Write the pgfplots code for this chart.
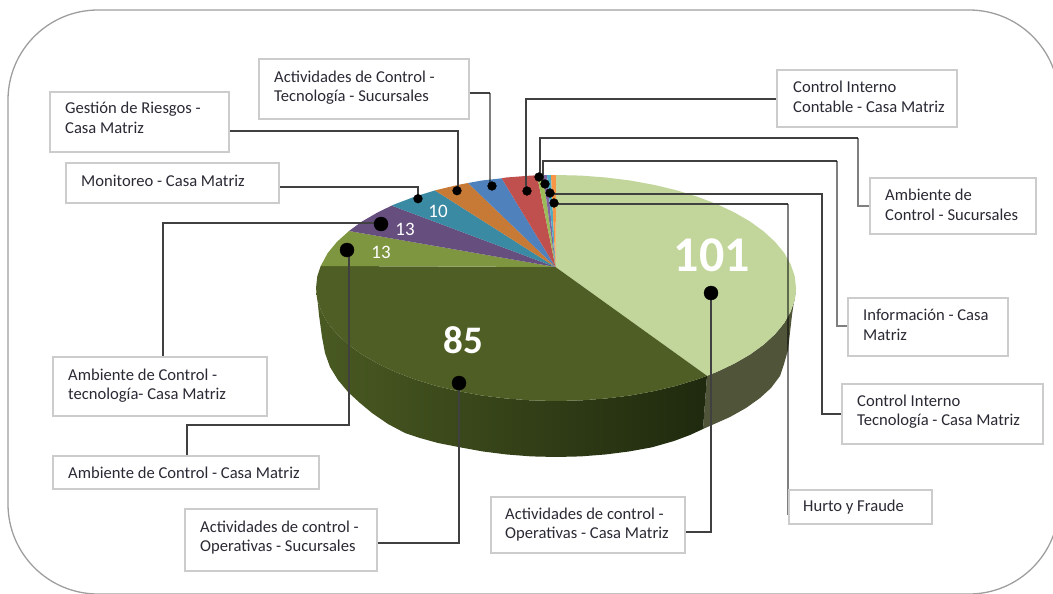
\documentclass[border=0pt]{standalone}
\usepackage{fontspec}
\setmainfont{Carlito}
\usepackage{pgfplots}
\pgfplotsset{compat=1.18}

\definecolor{sidePale}{HTML}{50553A}
\definecolor{sideA}{HTML}{4A5A22}
\definecolor{sideB}{HTML}{33401A}
\definecolor{sideC}{HTML}{1F290E}
\definecolor{boxline}{HTML}{CCCCCC}
\definecolor{wire}{HTML}{404040}
\definecolor{ink}{HTML}{2A2A35}

% box with its corners, in picture pixels
\newcommand{\labelbox}[4]{\draw[boxline,line width=1.2pt,fill=white] (axis cs:#1,#2) rectangle (axis cs:#3,#4);}
\newcommand{\labeltext}[3]{\node[anchor=west,inner sep=0pt,text=ink,font=\fontsize{16.6}{18}\selectfont] at (axis cs:#1,#2) {#3};}

\pgfplotsset{
    thin wire/.style={wire,line width=1.3pt},
    soft wire/.style={black,opacity=0.5,line width=1.8pt},
}

\begin{document}
\begin{tikzpicture}
\useasboundingbox (0,0) rectangle (1053pt,594pt);
\begin{axis}[
    scale only axis,
    width=1053pt, height=594pt,
    xmin=0, xmax=1053,
    ymin=0, ymax=594,
    y dir=reverse,
    hide axis,
]

\draw[color=black!38,line width=1.3pt,rounded corners=90pt] (axis cs:8,10) rectangle (axis cs:1059,594);

% sides of the pie
\addplot[draw=none,fill=sidePale] coordinates {
    (796,288)(794.7,299.8)(790.7,311.5)(784.3,322.9)(775.2,334)(763.8,344.5)(750.2,354.4)(734.3,363.6)(716.6,372)(707,375.8)
    (703,429)(730,417)(746,408)(760,398)(771,388)(780,376)(784,364)(788,350)(792,315)
} --cycle;
\addplot[draw=none,left color=sideA,middle color=sideB,right color=sideC] coordinates {
    (707,375.8)(697.1,379.4)(676,385.9)(653.6,391.2)(630.2,395.5)(605.9,398.5)(581.1,400.4)(556,401)
    (530.9,400.4)(506.1,398.5)(481.8,395.5)(458.4,391.2)(436,385.9)(414.9,379.4)(395.4,372)(377.7,363.6)
    (361.8,354.4)(348.2,344.5)(336.8,334)(327.7,322.9)(321.3,311.5)(317.3,299.8)(316,288)
    (317,295)(319,315)(322,337)(325,353)(330,367)(338,380)(348,392)(360,403)(372,413)(388,424)
    (405,433)(420,438)(438,443)(460,447.3)(483.1,451.5)(506.9,454.5)(531.3,456.4)(556,457)
    (580.7,456.4)(605.1,454.5)(628.9,451.5)(652,447.3)(674,441)(690,435)(703,429)
} --cycle;

% top face, clockwise from 12 o'clock
\addplot[draw=none,fill={rgb,255:red,194;green,214;blue,155}] coordinates {
    (555.5,267)(556,175)(581.1,175.6)(605.9,177.5)(630.2,180.5)(653.6,184.8)(676,190.1)(697.1,196.6)(716.6,204)
    (734.3,212.4)(750.2,221.6)(763.8,231.5)(775.2,242)(784.3,253.1)(790.7,264.5)(794.7,276.2)(796,288)
    (794.7,299.8)(790.7,311.5)(784.3,322.9)(775.2,334)(763.8,344.5)(750.2,354.4)(734.3,363.6)(716.6,372)(707,375.8)
} --cycle;
\addplot[draw=none,fill={rgb,255:red,79;green,94;blue,36}] coordinates {
    (555.5,267)(707,375.8)(697.1,379.4)(676,385.9)(653.6,391.2)(630.2,395.5)(605.9,398.5)(581.1,400.4)(556,401)
    (530.9,400.4)(506.1,398.5)(481.8,395.5)(458.4,391.2)(436,385.9)(414.9,379.4)(395.4,372)(377.7,363.6)
    (361.8,354.4)(348.2,344.5)(336.8,334)(327.7,322.9)(321.3,311.5)(317.3,299.8)(316,288)(317.3,276.2)(320.7,266)
} --cycle;
\addplot[draw=none,fill={rgb,255:red,127;green,150;blue,65}] coordinates {
    (555.5,267)(320.7,266)(327.7,253.1)(336.8,242)(349,231)
} --cycle;
\addplot[draw=none,fill={rgb,255:red,102;green,79;blue,127}] coordinates {
    (555.5,267)(349,231)(361.8,221.6)(377.7,212.4)(391.7,205.6)
} --cycle;
\addplot[draw=none,fill={rgb,255:red,59;green,138;blue,163}] coordinates {
    (555.5,267)(391.7,205.6)(395.4,204)(414.9,196.6)(435,190.4)
} --cycle;
\addplot[draw=none,fill={rgb,255:red,199;green,122;blue,53}] coordinates {
    (555.5,267)(435,190.4)(458.4,184.8)(468,183)
} --cycle;
\addplot[draw=none,fill={rgb,255:red,79;green,129;blue,189}] coordinates {
    (555.5,267)(468,183)(481.8,180.5)(501.7,178.3)
} --cycle;
\addplot[draw=none,fill={rgb,255:red,192;green,80;blue,77}] coordinates {
    (555.5,267)(501.7,178.3)(506.1,177.5)(530.9,175.6)(537,175.3)
} --cycle;
\addplot[draw=none,fill={rgb,255:red,155;green,187;blue,89}] coordinates {(555.5,267)(537,175.3)(543,175.1)} --cycle;
\addplot[draw=none,fill={rgb,255:red,128;green,100;blue,162}] coordinates {(555.5,267)(543,175.1)(547,175)} --cycle;
\addplot[draw=none,fill={rgb,255:red,75;green,172;blue,198}] coordinates {(555.5,267)(547,175)(551,175)} --cycle;
\addplot[draw=none,fill={rgb,255:red,247;green,150;blue,70}] coordinates {(555.5,267)(551,175)(556,175)} --cycle;

% values on the slices
\node[text=white,font=\fontsize{50}{50}\selectfont\bfseries] at (axis cs:712,255) {101};
\node[text=white,font=\fontsize{39}{39}\selectfont\bfseries] at (axis cs:463,340) {85};
\node[text=white,font=\fontsize{19}{19}\selectfont] at (axis cs:381,252) {13};
\node[text=white,font=\fontsize{19}{19}\selectfont] at (axis cs:405,229) {13};
\node[text=white,font=\fontsize{19}{19}\selectfont] at (axis cs:438,211) {10};

% leader lines
\addplot[thin wire] coordinates {(470,93)(490,93)};
\addplot[soft wire] coordinates {(490,93)(490,186)};
\addplot[thin wire] coordinates {(229,131)(458,131)(458,190)};
\addplot[thin wire] coordinates {(279,187)(418,187)(418,198)};
\addplot[thin wire] coordinates {(163,357)(163,223)(381,223)};
\addplot[thin wire] coordinates {(349,250)(349,425)(187,425)(187,456)};
\addplot[thin wire] coordinates {(378,543)(459,543)(459,383)};
\addplot[thin wire] coordinates {(685,532)(711,532)(711,293)};
\addplot[thin wire] coordinates {(777,99)(526,99)(526,191)};
\addplot[thin wire] coordinates {(540,177)(540,138)(858,138)};
\addplot[soft wire] coordinates {(858,138)(858,206)(870,206)};
\addplot[thin wire] coordinates {(543,184)(543,161)(837,161)};
\addplot[soft wire] coordinates {(837,161)(837,326)(848,326)};
\addplot[thin wire] coordinates {(550,194)(822,194)(822,414)(842,414)};
\addplot[thin wire] coordinates {(554,204)(788,204)};
\addplot[soft wire] coordinates {(788,204)(788,515)};

% leader dots
\addplot[only marks,mark=*,mark size=4.4pt,mark options={draw=black,fill=black}] coordinates {
    (418,198.7)(457,190.7)(492,186)(527,191)(539,177)(545,184)(550,193)(554,203)
};
\addplot[only marks,mark=*,mark size=7pt,mark options={draw=none,fill=black}] coordinates {
    (381,224)(347,250)(459,383)(711,293)
};

% labels
\labelbox{259}{59}{469}{119}
\labeltext{274}{77}{Actividades de Control -}
\labeltext{274}{97}{Tecnología - Sucursales}
\labelbox{50}{92}{229}{152}
\labeltext{65}{109}{Gestión de Riesgos -}
\labeltext{65}{128}{Casa Matriz}
\labelbox{66}{163}{279}{203}
\labeltext{81}{181}{Monitoreo - Casa Matriz}
\labelbox{53}{357}{267}{416}
\labeltext{68}{375}{Ambiente de Control -}
\labeltext{68}{395}{tecnología- Casa Matriz}
\labelbox{53}{456}{319}{489}
\labeltext{68}{473}{Ambiente de Control - Casa Matriz}
\labelbox{185}{509}{377}{571}
\labeltext{200}{527}{Actividades de control -}
\labeltext{200}{547}{Operativas - Sucursales}
\labelbox{491}{497}{685}{553}
\labeltext{505}{514}{Actividades de control -}
\labeltext{505}{534}{Operativas - Casa Matriz}
\labelbox{789}{490}{932}{524}
\labeltext{803}{507}{Hurto y Fraude}
\labelbox{842}{384}{1043}{444}
\labeltext{857}{401}{Control Interno}
\labeltext{857}{421}{Tecnología - Casa Matriz}
\labelbox{848}{298}{1008}{356}
\labeltext{863}{315}{Información - Casa}
\labeltext{863}{335}{Matriz}
\labelbox{870}{178}{1036}{234}
\labeltext{885}{195}{Ambiente de}
\labeltext{885}{215}{Control - Sucursales}
\labelbox{777}{70}{957}{127}
\labeltext{793}{87}{Control Interno}
\labeltext{793}{107}{Contable - Casa Matriz}

\end{axis}
\end{tikzpicture}
\end{document}
